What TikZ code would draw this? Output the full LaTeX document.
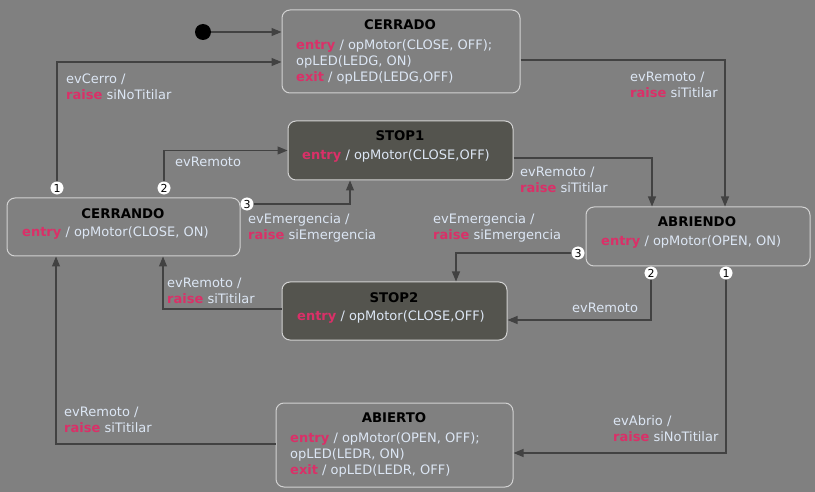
\documentclass[tikz,border=0pt]{standalone}
\usepackage{fontspec}
\setmainfont{DejaVu Sans}
\usetikzlibrary{arrows.meta,calc}
\definecolor{bg}{HTML}{808080}
\definecolor{txt}{HTML}{DCE6F4}
\definecolor{kw}{HTML}{DA3068}
\definecolor{stopfill}{HTML}{54544E}
\definecolor{edge}{HTML}{424242}
\definecolor{border}{HTML}{D2D2D2}
\newcommand{\kwd}[1]{\textcolor{kw}{\textbf{#1}}}
\begin{document}
\begin{tikzpicture}[x=1pt,y=-1pt,
  statebox/.style={draw=border,line width=1pt,rounded corners=8pt,fill=bg,minimum width=#1},
  stopbox/.style={draw=border,line width=1pt,rounded corners=8pt,fill=stopfill,minimum width=#1},
  ttl/.style={font=\fontsize{13.3}{15}\selectfont\bfseries,text=black,inner sep=0pt,yshift=-1.5pt},
  body/.style={font=\fontsize{13}{16}\selectfont,text=txt,align=left,anchor=west,inner sep=0pt,yshift=-1.5pt},
  lbl/.style={font=\fontsize{13}{16}\selectfont,text=txt,align=left,anchor=west,inner sep=0pt},
  arr/.style={draw=edge,line width=1.1pt,-{Triangle[length=10pt,width=8pt]}},
  numc/.style={circle,fill=white,draw=white,inner sep=0pt,minimum size=12.5pt,font=\fontsize{11}{11}\selectfont,text=black}
]
\useasboundingbox[fill=bg] (0,0) rectangle (815,492);

% states
\node[statebox=238pt,minimum height=83pt] (cerrado) at (401,51.5) {};
\node[stopbox=225pt,minimum height=59pt] (stop1) at (400.5,150.5) {};
\node[statebox=233pt,minimum height=58pt] (cerrando) at (123.5,227) {};
\node[statebox=224pt,minimum height=59pt] (abriendo) at (698,236.5) {};
\node[stopbox=225pt,minimum height=58pt] (stop2) at (394.5,311) {};
\node[statebox=237pt,minimum height=84pt] (abierto) at (394.5,445) {};

% texts
\node[ttl] (t1) at (400,23) {CERRADO};
\node[body] (b1) at (296,60) {\kwd{entry} / opMotor(CLOSE, OFF);\\opLED(LEDG, ON)\\\kwd{exit} / opLED(LEDG,OFF)};
\node[ttl] (t2) at (400,134) {STOP1};
\node[body] (b2) at (302,154) {\kwd{entry} / opMotor(CLOSE,OFF)};
\node[ttl] (t3) at (123,212) {CERRANDO};
\node[body] (b3) at (22,231) {\kwd{entry} / opMotor(CLOSE, ON)};
\node[ttl] (t4) at (697,220) {ABRIENDO};
\node[body] (b4) at (601,240) {\kwd{entry} / opMotor(OPEN, ON)};
\node[ttl] (t5) at (394,296) {STOP2};
\node[body] (b5) at (297,315) {\kwd{entry} / opMotor(CLOSE,OFF)};
\node[ttl] (t6) at (394,416) {ABIERTO};
\node[body] (b6) at (290,453) {\kwd{entry} / opMotor(OPEN, OFF);\\opLED(LEDR, ON)\\\kwd{exit} / opLED(LEDR, OFF)};

% initial
\node[circle,fill=black,minimum size=16pt,inner sep=0pt] (init) at (203,32) {};
\draw[arr] (init) -- (init -| cerrado.west);

% numbered circles (positions)
\coordinate (p1) at (57,188);
\coordinate (p2) at (164,188);
\coordinate (p3) at (247,204);
\coordinate (q3) at (578,253);
\coordinate (q2) at (651,273);
\coordinate (q1) at (726,273);

% connectors
\draw[arr] (p1) |- ([yshift=-10.5pt]cerrado.west);
\draw[arr] (p2) |- (stop1.west);
\draw[arr] (p3) -| ([xshift=-50.5pt]stop1.south);
\draw[arr] ([yshift=-8.5pt]cerrado.east) -| ([xshift=27pt]abriendo.north);
\draw[arr] ([yshift=-7.5pt]stop1.east) -| ([xshift=-46pt]abriendo.north);
\draw[arr] (q3) -| ([xshift=61.5pt]stop2.north);
\draw[arr] (q2) |- ([yshift=-9pt]stop2.east);
\draw[arr] (q1) |- ([yshift=-8pt]abierto.east);
\draw[arr] ([yshift=2pt]stop2.west) -| ([xshift=39.5pt]cerrando.south);
\draw[arr] ([yshift=1pt]abierto.west) -| ([xshift=-67.5pt]cerrando.south);

\node[numc] (n1) at (p1) {1};
\node[numc] (n2) at (p2) {2};
\node[numc] (n3) at (p3) {3};
\node[numc] (m3) at (q3) {3};
\node[numc] (m2) at (q2) {2};
\node[numc] (m1) at (q1) {1};

% labels
\node[lbl] (l1) at (66,86.5) {evCerro /\\\kwd{raise} siNoTitilar};
\node[lbl] (l2) at (175,162) {evRemoto};
\node[lbl] (l3) at (248,228) {evEmergencia /\\\kwd{raise} siEmergencia};
\node[lbl] (l4) at (630,85) {evRemoto /\\\kwd{raise} siTitilar};
\node[lbl] (l5) at (520,180) {evRemoto /\\\kwd{raise} siTitilar};
\node[lbl] (l6) at (433,227.5) {evEmergencia /\\\kwd{raise} siEmergencia};
\node[lbl] (l7) at (572,308) {evRemoto};
\node[lbl] (l8) at (613,429) {evAbrio /\\\kwd{raise} siNoTitilar};
\node[lbl] (l9) at (167,291) {evRemoto /\\\kwd{raise} siTitilar};
\node[lbl] (l10) at (64,420) {evRemoto /\\\kwd{raise} siTitilar};
\end{tikzpicture}
\end{document}
